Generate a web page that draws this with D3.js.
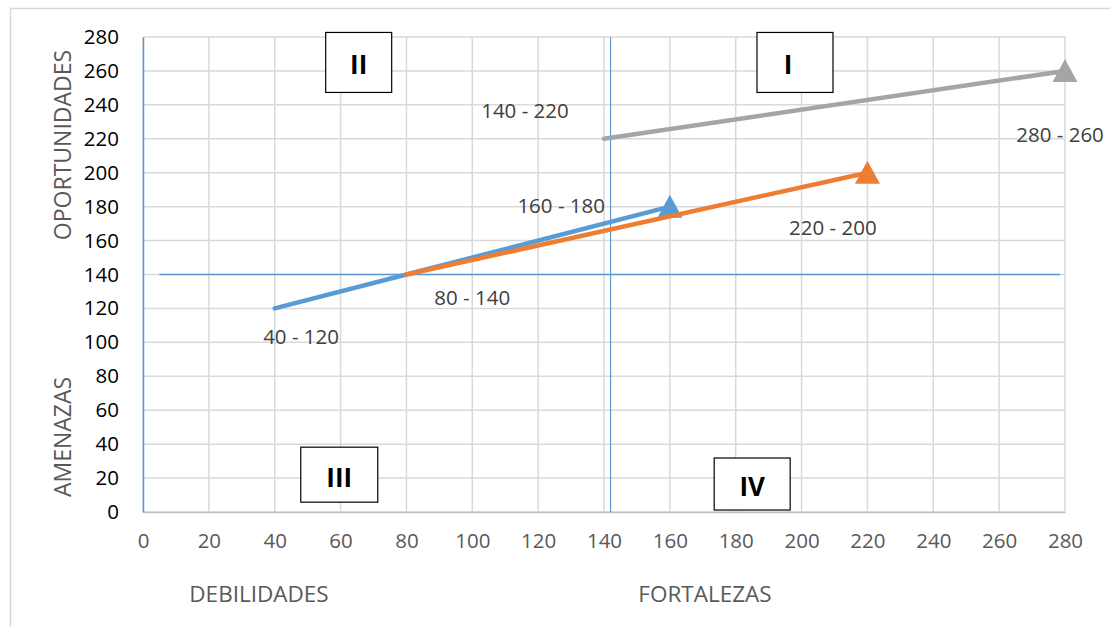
<!DOCTYPE html>
<html>
<head>
<meta charset="utf-8">
<script src="https://cdn.jsdelivr.net/npm/d3@7"></script>
<style>
  body { margin: 0; background: #fff; }
  text { font-family: "Open Sans", sans-serif; }
</style>
</head>
<body>
<svg id="chart" width="1110" height="627"></svg>
<script>
// Dades
const xTicks = [0, 20, 40, 60, 80, 100, 120, 140, 160, 180, 200, 220, 240, 260, 280];
const yTicks = [0, 20, 40, 60, 80, 100, 120, 140, 160, 180, 200, 220, 240, 260, 280];

const seriesNames = ["blau", "taronja", "gris"];
const seriesColors = ["#5B9BD5", "#ED7D31", "#A5A5A5"];
const blauPunts = [[40, 120], [80, 140], [160, 180]];
const tarongaPunts = [[80, 140], [220, 200]];
const grisPunts = [[140, 220], [280, 260]];

const etiquetes = ["40 - 120", "80 - 140", "160 - 180", "140 - 220", "220 - 200", "280 - 260"];
const etiquetesPos = [[48, 104], [100, 127], [127, 181], [116, 237], [209.5, 168], [278.5, 223]];

const quadrants = ["I", "II", "III", "IV"];
const quadrantsPos = [[198, 265], [65.5, 265], [59.6, 22], [185, 16.5]];

// Creu central
const creuX = 142;
const creuY = 140;
const creuYRange = [5, 278.5];

const svg = d3.select("#chart");
const margin = { top: 37, left: 143 },
      width = 922,
      height = 475;

// Vora exterior
svg.append("rect")
   .attr("x", 10.5).attr("y", 8.5)
   .attr("width", 1120).attr("height", 640)
   .attr("fill", "none")
   .attr("stroke", "#d9d9d9")
   .attr("stroke-width", 1.5);

const g = svg.append("g").attr("transform", `translate(${margin.left},${margin.top})`);

const x = d3.scaleLinear().domain([0, 280]).range([0, width]);
const y = d3.scaleLinear().domain([0, 280]).range([height, 0]);

// Graella
g.append("g")
 .selectAll("line")
 .data(xTicks)
 .enter().append("line")
 .attr("x1", d => x(d)).attr("x2", d => x(d))
 .attr("y1", 0).attr("y2", height)
 .attr("stroke", "#d9d9d9").attr("stroke-width", 1.5);

g.append("g")
 .selectAll("line")
 .data(yTicks)
 .enter().append("line")
 .attr("x1", 0).attr("x2", width)
 .attr("y1", d => y(d)).attr("y2", d => y(d))
 .attr("stroke", "#d9d9d9").attr("stroke-width", 1.5);

// Eixos
const xAxis = g.append("g")
 .attr("transform", `translate(0,${height})`)
 .call(d3.axisBottom(x).tickValues(xTicks).tickSize(0).tickPadding(21));
xAxis.select(".domain").attr("stroke", "#bfbfbf").attr("stroke-width", 1.5);
xAxis.selectAll("text").attr("fill", "#595959").style("font-size", "20.5px");

const yAxis = g.append("g")
 .call(d3.axisLeft(y).tickValues(yTicks).tickSize(0).tickPadding(24));
yAxis.select(".domain").attr("stroke", "#5B9BD5").attr("stroke-width", 1.5);
yAxis.selectAll("text").attr("fill", "#000").style("font-size", "20.5px");

// Creu
g.append("line")
 .attr("x1", x(creuX)).attr("x2", x(creuX))
 .attr("y1", 0).attr("y2", height)
 .attr("stroke", "#5B9BD5").attr("stroke-width", 1.2);
g.append("line")
 .attr("x1", x(creuYRange[0])).attr("x2", x(creuYRange[1]))
 .attr("y1", y(creuY)).attr("y2", y(creuY))
 .attr("stroke", "#5B9BD5").attr("stroke-width", 1.5);

// Línies amb fletxa
const linia = d3.line().x(d => x(d[0])).y(d => y(d[1]));
const series = [blauPunts, tarongaPunts, grisPunts];

series.forEach((pts, i) => {
    g.append("path")
     .datum(pts)
     .attr("d", linia)
     .attr("fill", "none")
     .attr("stroke", seriesColors[i])
     .attr("stroke-width", 4.5)
     .attr("stroke-linecap", "round")
     .attr("class", seriesNames[i]);

    const fi = pts[pts.length - 1];
    const cx = x(fi[0]), cy = y(fi[1]);
    g.append("path")
     .attr("d", `M${cx},${cy - 12} L${cx + 12.5},${cy + 11} L${cx - 12.5},${cy + 11} Z`)
     .attr("fill", seriesColors[i]);
});

// Etiquetes de dades
g.selectAll("text.label")
 .data(etiquetes)
 .enter().append("text")
 .attr("class", "label")
 .attr("x", (d, i) => x(etiquetesPos[i][0]))
 .attr("y", (d, i) => y(etiquetesPos[i][1]))
 .attr("text-anchor", "middle")
 .attr("dominant-baseline", "central")
 .attr("fill", "#404040")
 .style("font-size", "20.5px")
 .text(d => d);

// Quadrants
quadrants.forEach((q, i) => {
    const w = [76, 66, 77, 76][i], h = [60, 60, 55, 52][i];
    const desp = [-7, 0, 0, 0][i]; // el text del quadrant I no està centrat
    const qx = x(quadrantsPos[i][0]), qy = y(quadrantsPos[i][1]);
    g.append("rect")
     .attr("x", qx - w / 2).attr("y", qy - h / 2)
     .attr("width", w).attr("height", h)
     .attr("fill", "#fff").attr("stroke", "#000").attr("stroke-width", 1.2);
    g.append("text")
     .attr("x", qx + desp).attr("y", qy + 2)
     .attr("text-anchor", "middle")
     .attr("dominant-baseline", "central")
     .style("font-size", "26px")
     .style("font-weight", "bold")
     .text(q);
});

// Títols d'eixos
svg.append("text")
   .attr("transform", "translate(62,145) rotate(-90)")
   .attr("text-anchor", "middle").attr("dominant-baseline", "central")
   .attr("fill", "#595959").style("font-size", "23px")
   .text("OPORTUNIDADES");
svg.append("text")
   .attr("transform", "translate(62,437) rotate(-90)")
   .attr("text-anchor", "middle").attr("dominant-baseline", "central")
   .attr("fill", "#595959").style("font-size", "23px")
   .text("AMENAZAS");
svg.append("text")
   .attr("x", 259).attr("y", 593)
   .attr("text-anchor", "middle").attr("dominant-baseline", "central")
   .attr("fill", "#595959").style("font-size", "22.5px")
   .text("DEBILIDADES");
svg.append("text")
   .attr("x", 705).attr("y", 593)
   .attr("text-anchor", "middle").attr("dominant-baseline", "central")
   .attr("fill", "#595959").style("font-size", "22.5px")
   .text("FORTALEZAS");
</script>
</body>
</html>
